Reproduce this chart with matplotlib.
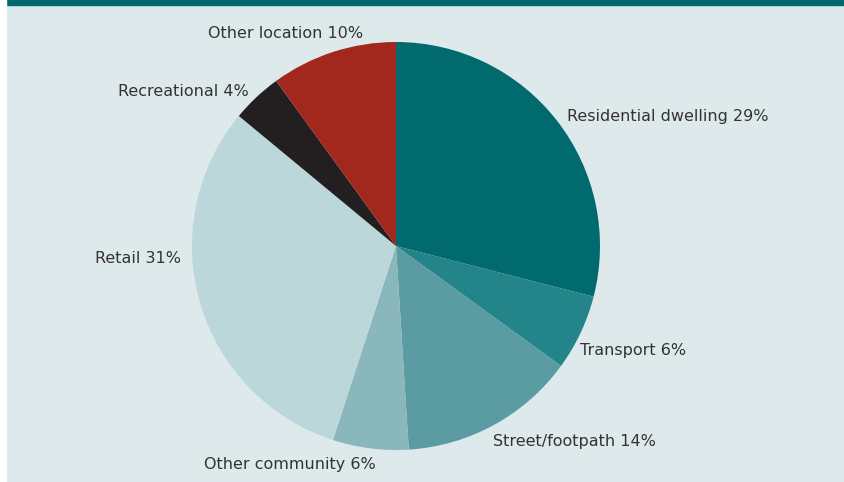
import matplotlib
matplotlib.use('Agg')
import matplotlib.pyplot as plt
from matplotlib.patches import Rectangle

labels = ['Residential dwelling', 'Transport', 'Street/footpath', 'Other community',
          'Retail', 'Recreational', 'Other location']
shares = [29, 6, 14, 6, 31, 4, 10]
colours = ['#006a6f', '#23858a', '#5b9ba2', '#8ab7bc', '#bcd7da', '#231f20', '#a2281e']

# label anchors in pie units (radius 1), with horizontal alignment
label_pos = [(0.84, 0.637, 'left'), (0.90, -0.51, 'left'), (0.475, -0.956, 'left'),
             (-0.10, -1.069, 'right'), (-1.054, -0.059, 'right'),
             (-0.72, 0.755, 'right'), (-0.16, 1.044, 'right')]

bg = '#dee9eb'
W, H = 844, 482
cx, cy, r = 396, 246, 204

plt.rcParams['font.family'] = ['DejaVu Sans Condensed', 'DejaVu Sans']

fig = plt.figure(figsize=(W / 100, H / 100), dpi=100)
fig.patch.set_facecolor(bg)
ax = fig.add_axes([0, 0, 1, 1])
ax.set_facecolor(bg)

ax.pie(shares, colors=colours, startangle=90, counterclock=False,
       wedgeprops=dict(linewidth=0))
ax.set_xlim((0 - cx) / r, (W - cx) / r)
ax.set_ylim((cy - H) / r, cy / r)
ax.set_aspect('equal')
ax.axis('off')

for lab, val, (x, y, ha) in zip(labels, shares, label_pos):
    ax.text(x, y, '{} {}%'.format(lab, val), ha=ha, va='center',
            fontsize=11.5, color='#333333')

# top band and left white strip
fig.patches.append(Rectangle((0, 1 - 5 / H), 1, 5 / H, transform=fig.transFigure,
                             color='#006a6f', zorder=5))
fig.patches.append(Rectangle((0, 0), 6 / W, 1, transform=fig.transFigure,
                             color='white', zorder=6))

fig.savefig('out.png', dpi=100, facecolor=bg)
